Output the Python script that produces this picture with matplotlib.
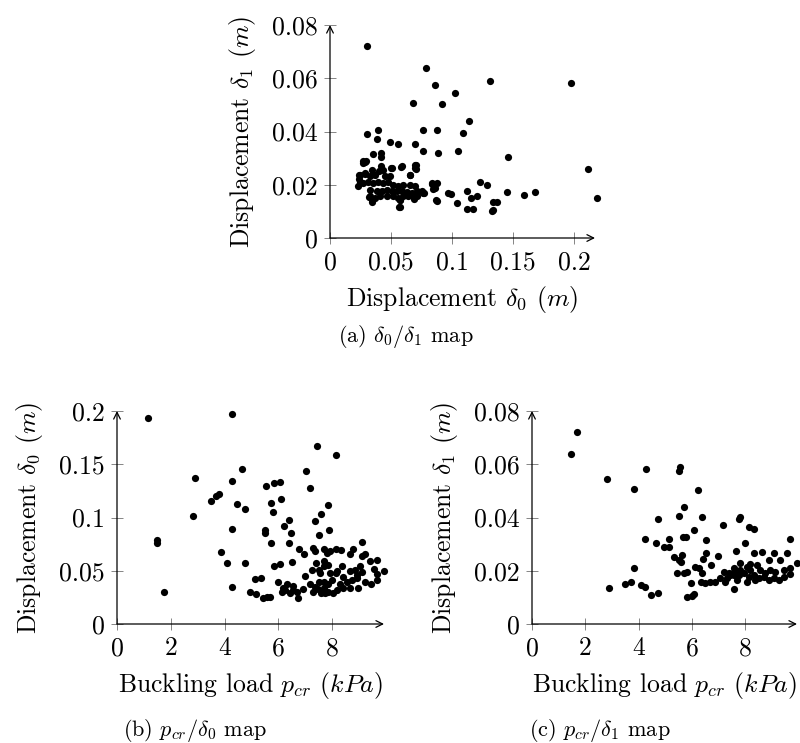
"""Scatter maps of displacement vs buckling load (three panels, pgfplots look)"""
import matplotlib
matplotlib.use('Agg')
import matplotlib.pyplot as plt

plt.rcParams['font.family'] = 'cmr10'
plt.rcParams['mathtext.fontset'] = 'cm'
plt.rcParams['axes.formatter.use_mathtext'] = True

# (a) delta0 / delta1
A_D0 = [0.0301, 0.0786, 0.0858, 0.102, 0.1307, 0.197, 0.0677, 0.092, 0.114, 0.0307,
        0.0389, 0.0386, 0.0759, 0.088, 0.1088, 0.0493, 0.0559, 0.0696, 0.0759, 0.0888,
        0.1047, 0.146, 0.211, 0.2186, 0.1225, 0.1285, 0.0838, 0.0858, 0.077, 0.097,
        0.0989, 0.1123, 0.1156, 0.1205, 0.1447, 0.159, 0.1677, 0.0877, 0.1038, 0.1123,
        0.1175, 0.1337, 0.1367, 0.1326, 0.1337, 0.057, 0.0575, 0.0342, 0.0323, 0.069,
        0.0355, 0.0416, 0.042, 0.0287, 0.0273, 0.0418, 0.0506, 0.0588, 0.0697, 0.0697,
        0.0342, 0.0404, 0.0437, 0.0246, 0.0287, 0.0328, 0.0369, 0.0451, 0.0492, 0.0656,
        0.0246, 0.0273, 0.0314, 0.0355, 0.0396, 0.0437, 0.0478, 0.0519, 0.056, 0.0601,
        0.0656, 0.0697, 0.0232, 0.0328, 0.0383, 0.0424, 0.0465, 0.0506, 0.0547, 0.0588,
        0.0629, 0.067, 0.0711, 0.0752, 0.0834, 0.0847, 0.0765, 0.0328, 0.0369, 0.041,
        0.0465, 0.0519, 0.056, 0.0601, 0.0642, 0.0683, 0.0711, 0.0342, 0.0574, 0.0568,
        0.0869, 0.0875, 0.0274, 0.0296, 0.0499, 0.058, 0.0652, 0.0236, 0.0241, 0.0288,
        0.0701, 0.0701]
A_D1 = [0.0721, 0.0638, 0.0574, 0.0544, 0.059, 0.0584, 0.0508, 0.0503, 0.0441, 0.0391,
        0.0404, 0.0371, 0.0404, 0.0405, 0.0393, 0.0361, 0.0353, 0.0354, 0.0328, 0.0318,
        0.0328, 0.0304, 0.0261, 0.015, 0.0209, 0.0199, 0.0204, 0.0186, 0.0169, 0.0169,
        0.0165, 0.0178, 0.015, 0.0159, 0.0173, 0.0163, 0.0174, 0.014, 0.0131, 0.0108,
        0.0109, 0.0135, 0.0135, 0.0103, 0.0105, 0.0116, 0.0144, 0.0141, 0.0153, 0.0146,
        0.0316, 0.0319, 0.0304, 0.0287, 0.0281, 0.0271, 0.0263, 0.0269, 0.0275, 0.0263,
        0.0256, 0.025, 0.0256, 0.0238, 0.0241, 0.0231, 0.0238, 0.0231, 0.0234, 0.0238,
        0.0212, 0.0206, 0.0212, 0.0206, 0.0212, 0.0206, 0.0212, 0.02, 0.0194, 0.02,
        0.02, 0.0194, 0.0194, 0.0181, 0.0176, 0.0176, 0.0181, 0.0176, 0.0176, 0.0176,
        0.0173, 0.017, 0.0176, 0.0176, 0.0206, 0.0184, 0.0169, 0.0156, 0.015, 0.0156,
        0.0156, 0.0156, 0.015, 0.0156, 0.0156, 0.0156, 0.0156, 0.0137, 0.0144, 0.0116,
        0.0141, 0.0206, 0.029, 0.029, 0.0263, 0.0266, 0.0237, 0.0235, 0.0222, 0.0244,
        0.0275, 0.0259]

# (b) buckling load / delta0
B_PCR = [1.155, 4.286, 7.43, 8.16, 4.66, 7.04, 2.91, 4.27, 5.55, 5.83,
         6.05, 7.18, 6.10, 3.50, 3.70, 3.80, 4.48, 4.75, 5.71, 7.83,
         5.81, 7.57, 2.84, 6.41, 7.37, 6.22, 4.27, 5.52, 5.49, 6.47,
         7.50, 7.89, 1.50, 1.49, 6.41, 5.71, 3.88, 6.77, 6.96, 7.28,
         7.37, 7.68, 7.80, 7.93, 8.14, 8.32, 8.65, 8.77, 9.11, 4.10,
         4.75, 5.83, 6.07, 6.52, 7.40, 7.71, 7.86, 7.68, 7.53, 7.24,
         8.36, 8.17, 8.67, 8.86, 9.04, 9.11, 9.23, 9.42, 9.66, 9.54,
         9.66, 9.94, 9.11, 8.92, 8.73, 8.42, 8.55, 8.30, 8.94, 9.23,
         9.44, 9.66, 7.55, 7.93, 7.99, 7.68, 7.86, 8.15, 8.42, 8.67,
         8.98, 8.17, 6.99, 7.18, 7.53, 6.00, 6.31, 6.53, 6.19, 5.12,
         5.34, 4.27, 4.94, 5.17, 5.44, 5.57, 5.69, 6.12, 6.25, 6.43,
         6.56, 6.71, 6.91, 6.72, 7.30, 7.49, 7.58, 7.74, 7.86, 8.02,
         7.68, 7.37, 1.74]
B_D0 = [0.193, 0.197, 0.167, 0.159, 0.146, 0.144, 0.137, 0.134, 0.130, 0.1325,
        0.133, 0.128, 0.117, 0.1156, 0.120, 0.122, 0.1125, 0.108, 0.114, 0.112,
        0.105, 0.103, 0.1016, 0.098, 0.097, 0.092, 0.089, 0.088, 0.0856, 0.0856,
        0.084, 0.088, 0.079, 0.0756, 0.0756, 0.0756, 0.0675, 0.070, 0.0653, 0.071,
        0.069, 0.070, 0.067, 0.069, 0.070, 0.0694, 0.066, 0.070, 0.077, 0.057,
        0.057, 0.054, 0.056, 0.058, 0.0575, 0.059, 0.055, 0.054, 0.0506, 0.0506,
        0.054, 0.050, 0.050, 0.0506, 0.0547, 0.064, 0.0656, 0.059, 0.060, 0.052,
        0.0466, 0.050, 0.049, 0.046, 0.041, 0.044, 0.0397, 0.038, 0.043, 0.0397,
        0.038, 0.041, 0.0475, 0.0475, 0.041, 0.0397, 0.038, 0.0475, 0.0334, 0.0334,
        0.034, 0.032, 0.0453, 0.038, 0.0397, 0.0397, 0.0375, 0.0356, 0.0334, 0.0419,
        0.0428, 0.0344, 0.0297, 0.0278, 0.024, 0.0256, 0.025, 0.0297, 0.032, 0.0294,
        0.032, 0.0303, 0.0328, 0.0247, 0.0303, 0.0325, 0.0294, 0.0288, 0.0303, 0.0294,
        0.0334, 0.035, 0.0303]

# (c) buckling load / delta1
C_PCR = [1.70, 1.46, 4.275, 5.50, 5.56, 2.80, 3.84, 6.225, 5.69, 4.71,
         5.51, 6.39, 7.78, 7.81, 7.16, 8.15, 8.31, 6.06, 5.66, 5.78,
         4.25, 5.125, 6.525, 9.69, 4.64, 4.94, 5.14, 8.00, 5.325, 5.50,
         5.64, 5.59, 6.41, 6.51, 6.99, 7.65, 6.71, 6.11, 6.275, 3.81,
         5.44, 5.69, 5.81, 5.96, 6.35, 6.50, 6.69, 6.875, 7.06, 7.25,
         7.44, 7.56, 7.81, 8.19, 8.31, 8.625, 8.875, 9.06, 9.31, 9.56,
         9.94, 9.66, 9.44, 9.69, 7.19, 7.375, 7.56, 7.75, 7.94, 8.125,
         8.31, 8.50, 8.69, 8.875, 9.06, 9.25, 9.44, 7.69, 7.31, 8.06,
         8.375, 8.75, 9.125, 7.56, 7.81, 8.19, 8.56, 8.94, 8.06, 8.44,
         7.56, 2.875, 3.475, 3.71, 4.09, 4.25, 4.475, 4.71, 5.81, 6.00,
         6.09, 6.375]
C_D1 = [0.072, 0.0638, 0.0584, 0.0574, 0.059, 0.0544, 0.0508, 0.0503, 0.044, 0.0393,
        0.0405, 0.0403, 0.0394, 0.0403, 0.037, 0.0363, 0.0355, 0.0353, 0.0328, 0.0328,
        0.0319, 0.0318, 0.0315, 0.0321, 0.0303, 0.029, 0.029, 0.0303, 0.025, 0.024,
        0.0261, 0.0234, 0.0246, 0.0265, 0.0255, 0.0274, 0.0221, 0.0215, 0.0209, 0.0209,
        0.019, 0.019, 0.0196, 0.0155, 0.0159, 0.0153, 0.0159, 0.0159, 0.0171, 0.0159,
        0.0184, 0.0209, 0.023, 0.0224, 0.0265, 0.0271, 0.024, 0.0265, 0.024, 0.0265,
        0.023, 0.0209, 0.0203, 0.0188, 0.0196, 0.019, 0.0196, 0.0184, 0.019, 0.0178,
        0.0184, 0.0171, 0.0178, 0.0165, 0.0171, 0.0165, 0.0178, 0.0165, 0.0171, 0.0159,
        0.0165, 0.019, 0.0196, 0.0184, 0.0203, 0.0203, 0.0203, 0.0203, 0.0215, 0.0221,
        0.0131, 0.0134, 0.0151, 0.0159, 0.0145, 0.014, 0.0109, 0.0118, 0.0103, 0.0105,
        0.0113, 0.019]

LBL_D0 = r'Displacement $\delta_0$ $(m)$'
LBL_D1 = r'Displacement $\delta_1$ $(m)$'
LBL_PCR = r'Buckling load $p_{cr}$ $(kPa)$'

W, H = 800, 743
FS = 18.5
fig = plt.figure(figsize=(W / 100, H / 100), dpi=100)


def px_axes(x0, x1, y0, y1):
    # axes box given in pixel coordinates (left, right, top, bottom)
    return fig.add_axes([x0 / W, 1 - y1 / H, (x1 - x0) / W, (y1 - y0) / H])


def style(ax, xlim, ylim, xticks, xlabels, yticks, ylabels, xlabel, ylabel):
    ax.set_xlim(*xlim)
    ax.set_ylim(*ylim)
    for s in ax.spines.values():
        s.set_visible(False)
    ax.annotate('', xy=(1, 0), xytext=(0, 0), xycoords='axes fraction',
                arrowprops=dict(arrowstyle='->', lw=0.9, color='black',
                                shrinkA=0, shrinkB=0, mutation_scale=12))
    ax.annotate('', xy=(0, 1), xytext=(0, 0), xycoords='axes fraction',
                arrowprops=dict(arrowstyle='->', lw=0.9, color='black',
                                shrinkA=0, shrinkB=0, mutation_scale=12))
    ax.set_xticks(xticks)
    ax.set_xticklabels(xlabels)
    ax.set_yticks(yticks)
    ax.set_yticklabels(ylabels)
    ax.tick_params(direction='inout', length=8, width=0.5, color='#555',
                   labelsize=FS, pad=5)
    ax.set_xlabel(xlabel, fontsize=FS, labelpad=7)
    ax.set_ylabel(ylabel, fontsize=FS, labelpad=10)
    ax.patch.set_visible(False)


# (a)
ax = px_axes(330, 595, 25, 238)
ax.scatter(A_D0, A_D1, s=27, color='black', linewidths=0, clip_on=False, zorder=3)
style(ax, (0, 0.217), (0, 0.08),
      [0, 0.05, 0.1, 0.15, 0.2], ['0', '0.05', '0.1', '0.15', '0.2'],
      [0, 0.02, 0.04, 0.06, 0.08], ['0', '0.02', '0.04', '0.06', '0.08'],
      LBL_D0, LBL_D1)

# (b)
ax = px_axes(117, 384, 411, 624)
ax.scatter(B_PCR, B_D0, s=27, color='black', linewidths=0, clip_on=False, zorder=3)
style(ax, (0, 9.93), (0, 0.2),
      [0, 2, 4, 6, 8], ['0', '2', '4', '6', '8'],
      [0, 0.05, 0.1, 0.15, 0.2], ['0', '0.05', '0.1', '0.15', '0.2'],
      LBL_PCR, LBL_D0)

# (c)
ax = px_axes(532, 797, 411, 624)
ax.scatter(C_PCR, C_D1, s=27, color='black', linewidths=0, clip_on=False, zorder=3)
style(ax, (0, 9.94), (0, 0.08),
      [0, 2, 4, 6, 8], ['0', '2', '4', '6', '8'],
      [0, 0.02, 0.04, 0.06, 0.08], ['0', '0.02', '0.04', '0.06', '0.08'],
      LBL_PCR, LBL_D1)

# captions
fig.text(406 / W, 1 - 336 / H, r'(a) $\delta_0/\delta_1$ map', fontsize=16,
         ha='center', va='center')
fig.text(195 / W, 1 - 730 / H, r'(b) $p_{cr}/\delta_0$ map', fontsize=16,
         ha='center', va='center')
fig.text(600 / W, 1 - 730 / H, r'(c) $p_{cr}/\delta_1$ map', fontsize=16,
         ha='center', va='center')

fig.savefig('out.png', dpi=100)
